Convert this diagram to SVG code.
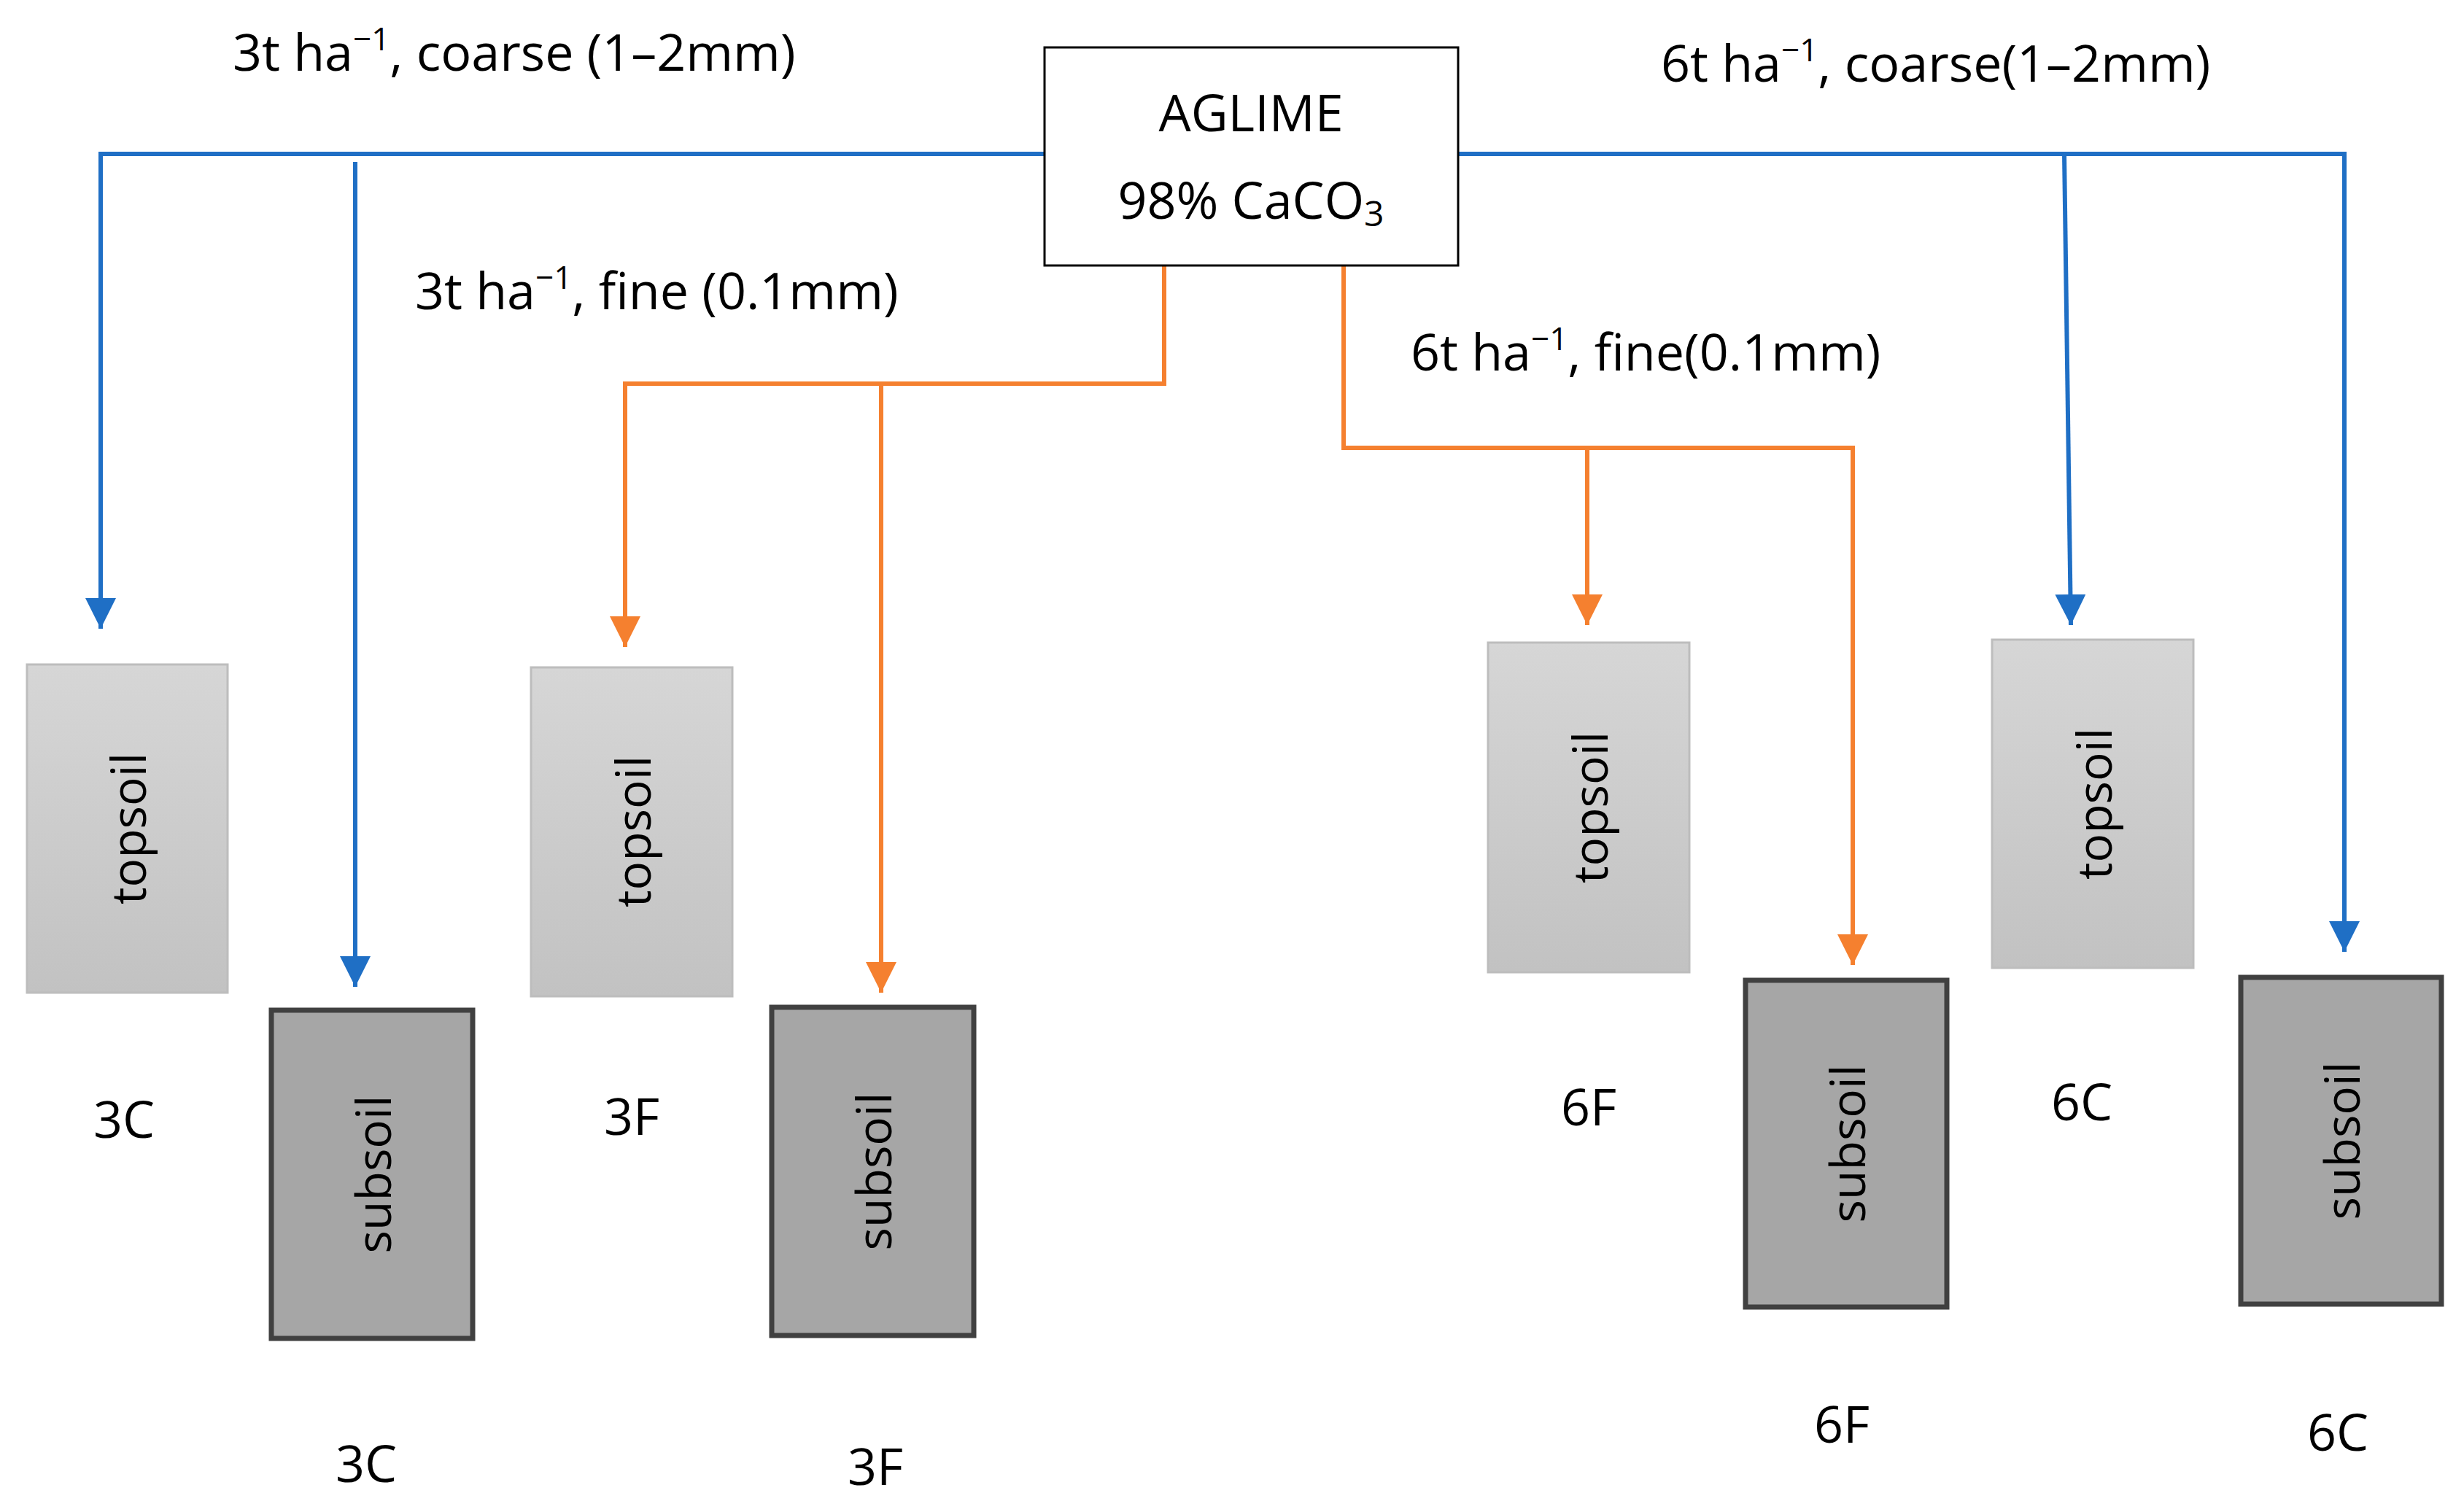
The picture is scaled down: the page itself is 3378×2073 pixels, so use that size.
<svg xmlns="http://www.w3.org/2000/svg" width="3378" height="2073" viewBox="0 0 3378 2073">
<style>
text{font-family:"Open Sans","Liberation Sans",sans-serif;fill:#000}
.lbl{font-size:70px}
.nm{font-size:70px;text-anchor:middle}
.rot{font-size:66px;text-anchor:middle;dominant-baseline:central}
.b{fill:none;stroke:#1f6fc5;stroke-width:6}
.o{fill:none;stroke:#f5802f;stroke-width:6}
.top{fill:url(#g);stroke:#bdbdbd;stroke-width:3}
.sub{fill:#a6a6a6;stroke:#404040;stroke-width:7}
</style>
<defs>
<linearGradient id="g" x1="0" y1="0" x2="0" y2="1"><stop offset="0" stop-color="#d6d6d6"/><stop offset="1" stop-color="#c2c2c2"/></linearGradient>
<marker id="ab" viewBox="0 0 10 10" refX="10" refY="5" markerWidth="7" markerHeight="7" orient="auto" markerUnits="strokeWidth"><path d="M0,0L10,5L0,10z" fill="#1f6fc5"/></marker>
<marker id="ao" viewBox="0 0 10 10" refX="10" refY="5" markerWidth="7" markerHeight="7" orient="auto" markerUnits="strokeWidth"><path d="M0,0L10,5L0,10z" fill="#f5802f"/></marker>
</defs>
<rect width="3378" height="2073" fill="#fff"/>
<g id="connectors">
<polyline class="b" points="1432,211 138,211 138,862" marker-end="url(#ab)"/>
<line class="b" x1="487" y1="222" x2="487" y2="1353" marker-end="url(#ab)"/>
<polyline class="b" points="1999,211 3214,211 3214,1305" marker-end="url(#ab)"/>
<line class="b" x1="2830" y1="211" x2="2839" y2="857" marker-end="url(#ab)"/>
<polyline class="o" points="1596,364 1596,526 857,526 857,887" marker-end="url(#ao)"/>
<line class="o" x1="1208" y1="526" x2="1208" y2="1361" marker-end="url(#ao)"/>
<polyline class="o" points="1842,364 1842,614 2540,614 2540,1323" marker-end="url(#ao)"/>
<line class="o" x1="2176" y1="614" x2="2176" y2="857" marker-end="url(#ao)"/>
</g>
<g id="aglime">
<rect x="1432" y="65" width="567" height="299" fill="#fff" stroke="#000" stroke-width="3"/>
<text class="nm" x="1715" y="180">AGLIME</text>
<text class="nm" x="1715" y="300">98% CaCO<tspan font-size="48" dy="10">3</tspan></text>
</g>
<g id="labels">
<text class="lbl" x="319" y="97">3t ha<tspan font-size="44" dy="-28">−1</tspan><tspan dy="28">, coarse (1–2mm)</tspan></text>
<text class="lbl" x="569" y="424">3t ha<tspan font-size="44" dy="-28">−1</tspan><tspan dy="28">, fine (0.1mm)</tspan></text>
<text class="lbl" x="1934" y="508">6t ha<tspan font-size="44" dy="-28">−1</tspan><tspan dy="28">, fine(0.1mm)</tspan></text>
<text class="lbl" x="2277" y="112">6t ha<tspan font-size="44" dy="-28">−1</tspan><tspan dy="28">, coarse(1–2mm)</tspan></text>
</g>
<g id="top3C"><rect class="top" x="37" y="911" width="275" height="450"/><text class="rot" transform="translate(174,1136) rotate(-90)">topsoil</text><text class="nm" x="170" y="1560">3C</text></g>
<g id="sub3C"><rect class="sub" x="372" y="1385" width="276" height="450"/><text class="rot" transform="translate(510,1610) rotate(-90)">subsoil</text><text class="nm" x="502" y="2032">3C</text></g>
<g id="top3F"><rect class="top" x="728" y="915" width="276" height="451"/><text class="rot" transform="translate(866,1140) rotate(-90)">topsoil</text><text class="nm" x="866" y="1556">3F</text></g>
<g id="sub3F"><rect class="sub" x="1058" y="1381" width="277" height="450"/><text class="rot" transform="translate(1196,1606) rotate(-90)">subsoil</text><text class="nm" x="1200" y="2036">3F</text></g>
<g id="top6F"><rect class="top" x="2040" y="881" width="276" height="452"/><text class="rot" transform="translate(2178,1107) rotate(-90)">topsoil</text><text class="nm" x="2178" y="1543">6F</text></g>
<g id="sub6F"><rect class="sub" x="2393" y="1344" width="276" height="448"/><text class="rot" transform="translate(2531,1568) rotate(-90)">subsoil</text><text class="nm" x="2525" y="1978">6F</text></g>
<g id="top6C"><rect class="top" x="2731" y="877" width="276" height="450"/><text class="rot" transform="translate(2869,1102) rotate(-90)">topsoil</text><text class="nm" x="2854" y="1536">6C</text></g>
<g id="sub6C"><rect class="sub" x="3072" y="1340" width="275" height="448"/><text class="rot" transform="translate(3209,1564) rotate(-90)">subsoil</text><text class="nm" x="3205" y="1989">6C</text></g>
</svg>
